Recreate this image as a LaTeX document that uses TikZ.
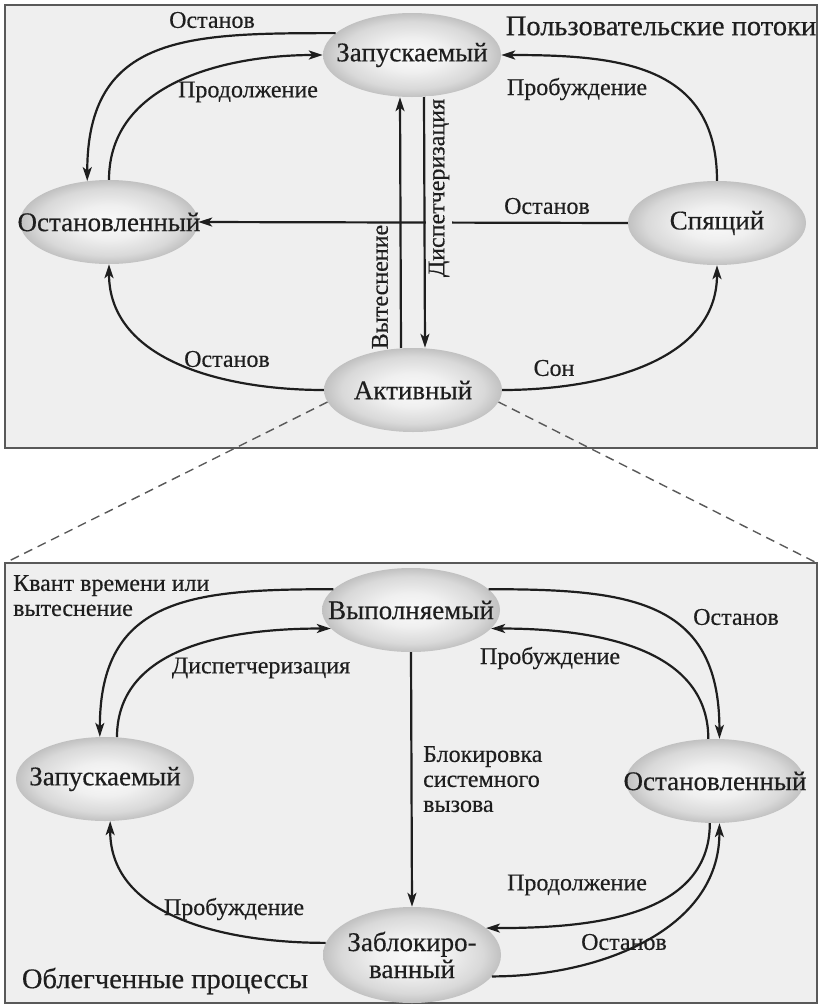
\documentclass[tikz,border=0pt]{standalone}
\usepackage{fontspec}
\setmainfont{Liberation Serif}[FakeBold=0.4]
\usetikzlibrary{arrows.meta, shapes.geometric}

\definecolor{panelbg}{HTML}{EFEFEF}
\definecolor{ink}{HTML}{1E1E1E}
\pgfdeclareradialshading{stateshade}{\pgfpoint{0bp}{0bp}}{%
  color(0bp)=(black!2); color(10bp)=(black!6); color(20bp)=(black!15); color(27bp)=(black!28); color(35bp)=(black!50); color(50bp)=(black!55)}

\begin{document}
\begin{tikzpicture}[x=1pt, y=1pt,
  state/.style={ellipse, minimum width=178pt, minimum height=84pt,
    inner xsep=-40pt, inner ysep=-10pt, shading=stateshade, text=ink,
    font=\fontsize{27}{27}\selectfont},
  lbl/.style={text=ink, inner sep=0pt, font=\fontsize{24}{25}\selectfont},
  ttl/.style={text=ink, inner sep=0pt, font=\fontsize{28.5}{30}\selectfont},
  arr/.style={draw=ink, line width=2.2pt, -{Stealth[length=14pt, width=9pt, inset=3.5pt]}},
  panel/.style={fill=panelbg, draw=black!65, line width=1.2pt}]

  \useasboundingbox (0,0) rectangle (820,-1005);

  % панели
  \draw[panel] (5,-5) rectangle (817,-448);
  \draw[panel] (5,-563) rectangle (817,-1003);
  \coordinate (lowNW) at (5,-563);
  \coordinate (lowNE) at (817,-563);

  % пользовательские потоки
  \node[state] (runU)   at (412,-55)  {Запускаемый};
  \node[state] (stopU)  at (109,-222) {Остановленный};
  \node[state] (sleepU) at (717,-223) {Спящий};
  \node[state] (actU)   at (413,-390) {Активный};

  \draw[arr] (runU.164) to[out=180, in=90, looseness=1.3] (stopU.118);
  \draw[arr] (stopU.north) to[out=90, in=180] (runU.west);
  \draw[arr] (sleepU.west) -- (stopU.east);
  \draw[arr] ([xshift=-12pt]actU.north) -- ([xshift=-12pt]runU.south);
  \draw[arr] ([xshift=12pt]runU.south) -- ([xshift=12pt]actU.north);
  \draw[arr] (sleepU.north) to[out=90, in=0, looseness=1.2] (runU.east);
  \draw[arr] (actU.east) to[out=0, in=-90] (sleepU.south);
  \draw[arr] (actU.west) to[out=180, in=-90] (stopU.south);

  \node[lbl] at (212,-20) {Останов};
  \node[lbl] at (248,-92) {Продолжение};
  \node[lbl] at (547,-206) {Останов};
  \node[lbl] at (577,-89) {Пробуждение};
  \node[lbl] at (554,-368) {Сон};
  \node[lbl] at (227,-359) {Останов};
  \node[lbl, rotate=90] at (380,-287) {Вытеснение};
  \node[lbl, rotate=90, fill=panelbg, inner sep=3pt] at (439,-188) {Диспетчеризация};
  \node[ttl] at (661,-26) {Пользовательские потоки};

  % связь панелей (пунктир)
  \draw[black!65, line width=1.4pt, dash pattern=on 9pt off 6pt] (actU.188) -- (lowNW);
  \draw[black!65, line width=1.4pt, dash pattern=on 9pt off 6pt] (actU.-8) -- (lowNE);

  % облегченные процессы
  \node[state] (runL)   at (411,-610) {Выполняемый};
  \node[state] (readyL) at (105,-779) {Запускаемый};
  \node[state] (stopL)  at (715,-781) {Остановленный};
  \node[state, minimum height=96pt, align=center] (blockL) at (412,-955) {Заблокиро-\\ванный};

  \draw[arr] (runL.165) to[out=180, in=90, looseness=1.3] (readyL.97);
  \draw[arr] (readyL.74) to[out=90, in=180] (runL.193);
  \draw[arr] (runL.south) -- (blockL.north);
  \draw[arr] (runL.15) to[out=0, in=90, looseness=1.3] (stopL.84);
  \draw[arr] (stopL.99) to[out=90, in=0] (runL.-13);
  \draw[arr] (stopL.-97) to[out=-90, in=0] (blockL.20);
  \draw[arr] (blockL.-15) to[out=0, in=-90] (stopL.-84);
  \draw[arr] (blockL.172) to[out=180, in=-90] (readyL.-83);

  \node[lbl, anchor=north west, align=left] at (13,-575) {Квант времени или\\вытеснение};
  \node[lbl] at (261,-668) {Диспетчеризация};
  \node[lbl, anchor=north west, align=left] at (423,-746) {Блокировка\\системного\\вызова};
  \node[lbl] at (736,-617) {Останов};
  \node[lbl] at (550,-658) {Пробуждение};
  \node[lbl] at (577,-885) {Продолжение};
  \node[lbl] at (624,-942) {Останов};
  \node[lbl] at (234,-909) {Пробуждение};
  \node[ttl] at (165,-981) {Облегченные процессы};
\end{tikzpicture}
\end{document}
